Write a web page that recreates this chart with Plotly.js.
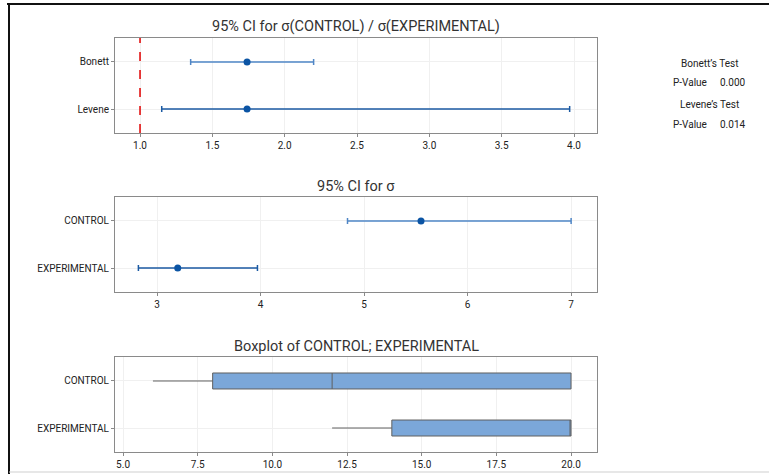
<!DOCTYPE html>
<html>
<head>
<meta charset="utf-8">
<script src="https://cdn.plot.ly/plotly-3.0.1.min.js"></script>
<style>html,body{margin:0;padding:0;background:#fff;}#chart{width:769px;height:474px;}</style>
</head>
<body>
<div id="chart"></div>
<script>
// Panel 1: ratio CI
const ratioMethods = ['Bonett', 'Levene'];
const ratioEst = [1.74, 1.74];
const ratioLow = [1.35, 1.15];
const ratioHigh = [2.20, 3.97];
// Panel 2: sigma CI
const groups = ['CONTROL', 'EXPERIMENTAL'];
const sigmaEst = [5.55, 3.20];
const sigmaLow = [4.84, 2.82];
const sigmaHigh = [7.00, 3.97];
// Panel 3: boxplot summary
const boxMin = [6, 12];
const boxQ1 = [8, 14];
const boxMedian = [12, 20];
const boxQ3 = [20, 20];
const boxMax = [20, 20];
// Test results
const testNames = ["Bonett’s Test", "Levene’s Test"];
const pValues = ['0.000', '0.014'];

const FONT = 'Roboto, "Open Sans", sans-serif';
const W = 769, H = 474;
const px = v => v / W;
const py = v => 1 - v / H;

const traces = [];
const ciColors = ['#4f86c6', '#1b5aa3'];
ratioMethods.forEach((m, i) => {
  traces.push({
    type: 'scatter', mode: 'markers', xaxis: 'x', yaxis: 'y',
    x: [ratioEst[i]], y: [m],
    marker: {color: '#0b54a4', size: 7},
    error_x: {type: 'data', symmetric: false, array: [ratioHigh[i] - ratioEst[i]], arrayminus: [ratioEst[i] - ratioLow[i]], color: ciColors[i], thickness: 1.5, width: 3},
    hoverinfo: 'x+y', showlegend: false
  });
});
groups.forEach((g, i) => {
  traces.push({
    type: 'scatter', mode: 'markers', xaxis: 'x2', yaxis: 'y2',
    x: [sigmaEst[i]], y: [g],
    marker: {color: '#0b54a4', size: 7},
    error_x: {type: 'data', symmetric: false, array: [sigmaHigh[i] - sigmaEst[i]], arrayminus: [sigmaEst[i] - sigmaLow[i]], color: ciColors[i], thickness: 1.5, width: 3},
    hoverinfo: 'x+y', showlegend: false
  });
});
traces.push({
  type: 'box', orientation: 'h', xaxis: 'x3', yaxis: 'y3',
  y: groups, q1: boxQ1, median: boxMedian, q3: boxQ3, lowerfence: boxMin, upperfence: boxMax,
  fillcolor: '#7ba7d9', line: {color: '#606060', width: 1}, width: 0.34, whiskerwidth: 0,
  showlegend: false, hoverinfo: 'x'
});

const xDom = [px(115), px(597)];
function xax(range, tickvals, fmt, anchor) {
  return {domain: xDom, range: range, tickvals: tickvals, tickformat: fmt, anchor: anchor,
    showline: true, linecolor: '#8a8a8a', linewidth: 1, mirror: true,
    showgrid: true, gridcolor: '#f0f0f0', zeroline: false,
    ticks: 'outside', ticklen: 3, tickcolor: '#8a8a8a',
    tickfont: {family: FONT, size: 10, color: '#222'}, fixedrange: true};
}
function yax(dom, cats, anchor) {
  return {domain: dom, type: 'category', categoryorder: 'array', categoryarray: cats,
    range: [1.51, -0.51], anchor: anchor,
    showline: true, linecolor: '#8a8a8a', linewidth: 1, mirror: true,
    showgrid: true, gridcolor: '#f0f0f0', zeroline: false,
    ticks: 'outside', ticklen: 3, tickcolor: '#8a8a8a',
    tickfont: {family: FONT, size: 10, color: '#222'}, fixedrange: true};
}

const titleFont = {family: FONT, size: 14.5, color: '#333'};
const smallFont = {family: FONT, size: 10, color: '#222'};
const annotations = [
  {text: '95% CI for σ(CONTROL) / σ(EXPERIMENTAL)', x: px(356), y: py(27), xref: 'paper', yref: 'paper', showarrow: false, font: titleFont, xanchor: 'center', yanchor: 'middle'},
  {text: '95% CI for σ', x: px(356), y: py(186), xref: 'paper', yref: 'paper', showarrow: false, font: titleFont, xanchor: 'center', yanchor: 'middle'},
  {text: 'Boxplot of CONTROL; EXPERIMENTAL', x: px(356), y: py(346), xref: 'paper', yref: 'paper', showarrow: false, font: titleFont, xanchor: 'center', yanchor: 'middle'}
];
testNames.forEach((t, i) => {
  const yy = 63 + i * 41;
  annotations.push({text: t, x: px(709), y: py(yy), xref: 'paper', yref: 'paper', showarrow: false, font: smallFont, xanchor: 'center', yanchor: 'middle'});
  annotations.push({text: 'P-Value', x: px(671), y: py(yy + 20), xref: 'paper', yref: 'paper', showarrow: false, font: smallFont, xanchor: 'left', yanchor: 'middle'});
  annotations.push({text: pValues[i], x: px(747), y: py(yy + 20), xref: 'paper', yref: 'paper', showarrow: false, font: smallFont, xanchor: 'right', yanchor: 'middle'});
});

const layout = {
  width: W, height: H, margin: {l: 0, r: 0, t: 0, b: 0},
  paper_bgcolor: '#fff', plot_bgcolor: '#fff', showlegend: false,
  xaxis: xax([0.827, 4.159], [1, 1.5, 2, 2.5, 3, 3.5, 4], '.1f', 'y'),
  yaxis: yax([py(133), py(38)], ratioMethods, 'x'),
  xaxis2: xax([2.594, 7.25], [3, 4, 5, 6, 7], 'd', 'y2'),
  yaxis2: yax([py(292), py(197)], groups, 'x2'),
  xaxis3: xax([4.73, 20.87], [5, 7.5, 10, 12.5, 15, 17.5, 20], '.1f', 'y3'),
  yaxis3: yax([py(452), py(357)], groups, 'x3'),
  annotations: annotations,
  shapes: [
    {type: 'line', xref: 'x', yref: 'y domain', x0: 1, x1: 1, y0: 0, y1: 1, line: {color: '#e00000', width: 1.5, dash: 'dash'}},
    {type: 'line', xref: 'paper', yref: 'paper', x0: px(7), x1: 1, y0: py(4), y1: py(4), line: {color: '#111', width: 2}},
    {type: 'line', xref: 'paper', yref: 'paper', x0: px(9), x1: px(9), y0: py(4), y1: 0, line: {color: '#111', width: 2}},
    {type: 'line', xref: 'paper', yref: 'paper', x0: px(9), x1: 1, y0: py(472), y1: py(472), line: {color: '#cfcfcf', width: 1}}
  ]
};

Plotly.newPlot('chart', traces, layout, {displayModeBar: false, staticPlot: true});
</script>
</body>
</html>
